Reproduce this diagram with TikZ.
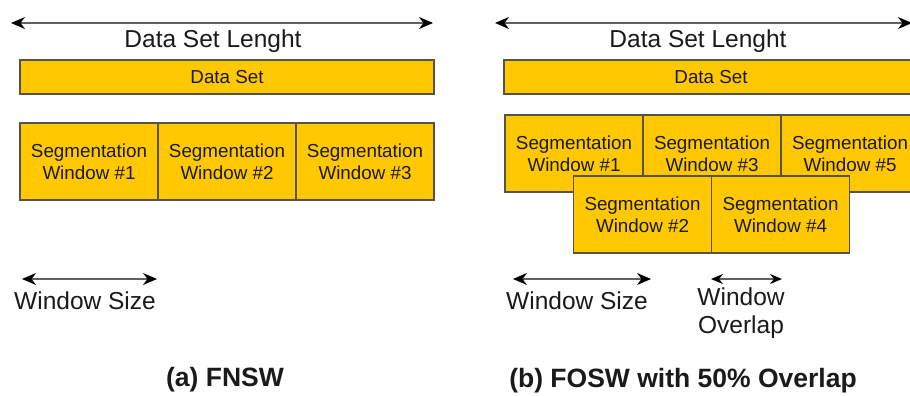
\documentclass[tikz,border=0pt]{standalone}
\usepackage{fontspec}
\setmainfont{Liberation Sans}
\usetikzlibrary{arrows.meta,positioning}
\definecolor{gold}{HTML}{FFC800}
\definecolor{edge}{HTML}{55534A}
\definecolor{ink}{HTML}{1A1A1A}
\definecolor{shaft}{HTML}{606060}
\tikzset{
  bar/.style={
    draw=edge, fill=gold, line width=1.4pt,
    inner sep=0pt, outer sep=0pt,
    minimum width=414pt, minimum height=34pt,
    font=\fontsize{18.8}{22}\selectfont, text=ink
  },
  win/.style={
    draw=edge, fill=gold, line width=1.4pt,
    inner sep=0pt, outer sep=0pt,
    minimum width=138pt, minimum height=77pt,
    align=center, font=\fontsize{18.8}{22}\selectfont, text=ink
  },
  dim/.style={
    {Stealth[length=14pt,width=12pt,inset=4.5pt,color=black]}-{Stealth[length=14pt,width=12pt,inset=4.5pt,color=black]},
    line width=1.4pt, draw=shaft
  },
  smalldim/.style={
    {Stealth[length=12pt,width=10pt,inset=4pt,color=black]}-{Stealth[length=12pt,width=10pt,inset=4pt,color=black]},
    line width=1.4pt, draw=shaft
  },
  lbl/.style={inner sep=0pt, align=center, text=ink, font=\fontsize{24.5}{28}\selectfont},
  caption/.style={inner sep=0pt, text=ink, font=\fontsize{26.5}{30}\selectfont\bfseries}
}

\begin{document}
\begin{tikzpicture}[x=1pt, y=-1pt, node distance=0pt]
  \useasboundingbox (0,0) rectangle (910,396);
  \clip (0,0) rectangle (910,396);

  % (a) FNSW
  \coordinate (lenA-l) at (11,23);
  \coordinate (lenA-r) at (433,23);
  \draw[dim] (lenA-l) -- (lenA-r);
  \node[lbl] (lenA) at (213,41) {Data Set Lenght};
  \node[bar] (dataA) at (227,77) {Data Set};
  \node[win] (winA1) at (89,161.5) {Segmentation\\Window \#1};
  \node[win, right=of winA1] (winA2) {Segmentation\\Window \#2};
  \node[win, right=of winA2] (winA3) {Segmentation\\Window \#3};
  \coordinate (sizeA-l) at (22,279);
  \coordinate (sizeA-r) at (157,279);
  \draw[dim] (sizeA-l) -- (sizeA-r);
  \node[lbl] (sizeA) at (85,301) {Window Size};
  \node[caption] (capA) at (225,380) {(a) FNSW};

  % (b) FOSW
  \coordinate (lenB-l) at (495,23);
  \coordinate (lenB-r) at (912,23);
  \draw[dim] (lenB-l) -- (lenB-r);
  \node[lbl] (lenB) at (698,41) {Data Set Lenght};
  \node[bar] (dataB) at (711,77) {Data Set};
  \node[win] (winB1) at (574,153.5) {Segmentation\\Window \#1};
  \node[win, right=of winB1] (winB3) {Segmentation\\Window \#3};
  \node[win, right=of winB3] (winB5) {Segmentation\\Window \#5};
  \node[win] (winB2) at (642.5,214.5) {Segmentation\\Window \#2};
  \node[win, right=of winB2] (winB4) {Segmentation\\Window \#4};
  \coordinate (sizeB-l) at (513,279);
  \coordinate (sizeB-r) at (651,279);
  \draw[dim] (sizeB-l) -- (sizeB-r);
  \node[lbl] (sizeB) at (577,301) {Window Size};
  \coordinate (overB-l) at (711,279);
  \coordinate (overB-r) at (782,279);
  \draw[smalldim] (overB-l) -- (overB-r);
  \node[lbl] (overB) at (741,313) {Window\\Overlap};
  \node[caption] (capB) at (683,381) {(b) FOSW with 50\% Overlap};
\end{tikzpicture}
\end{document}
